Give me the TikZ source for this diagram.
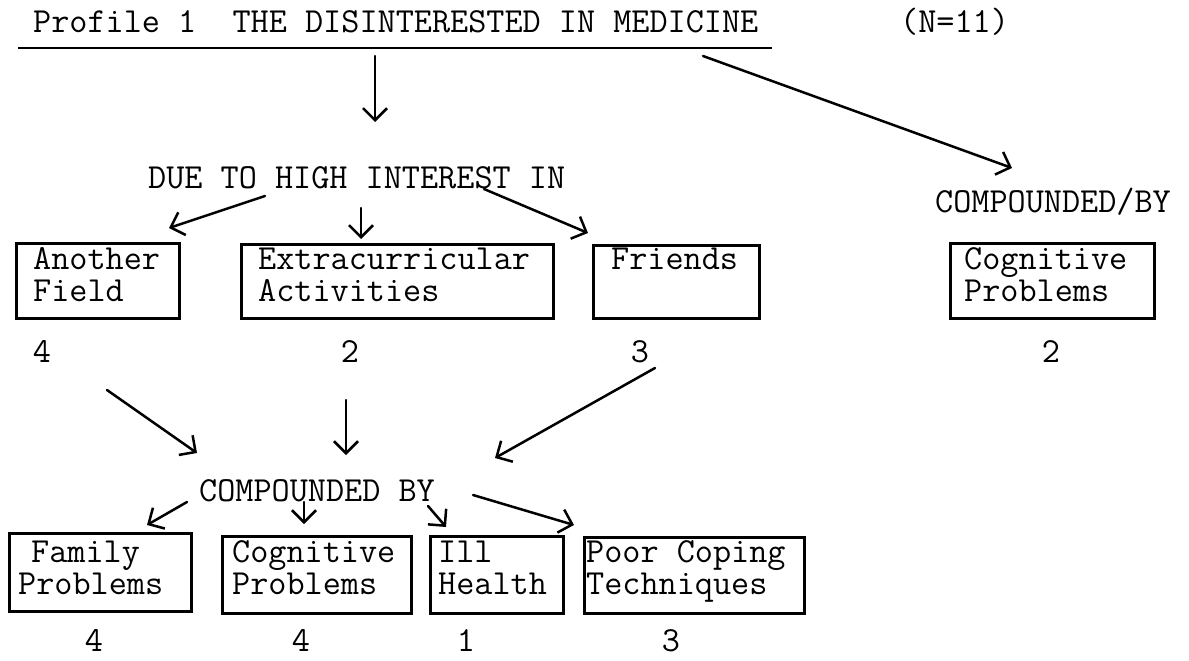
\documentclass[tikz,border=0pt]{standalone}
\usepackage{fontspec}
\usetikzlibrary{arrows.meta}
\newcommand{\twolines}[2]{\begin{tabular}[t]{@{}l@{}}#1\\#2\end{tabular}}
\begin{document}
\begin{tikzpicture}[x=1pt,y=-1pt,
  txt/.style={font=\ttfamily\fontsize{35.2}{32}\selectfont, inner sep=0pt, anchor=base west},
  num/.style={txt, anchor=base},
  box/.style={draw, line width=2.6pt, inner sep=0pt, anchor=north west},
  arr/.style={line width=2.5pt, line cap=round, -{Straight Barb[length=12pt,width=24pt]}},
  rule/.style={line width=2.4pt}]
\useasboundingbox[fill=white] (0,0) rectangle (1189,661);

% ---- row 1
\node[txt] (title) at (33,33) {Profile 1\ \ THE DISINTERESTED IN MEDICINE};
\node[txt] (n) at (900,33) {(N=11)};
\coordinate (ulL) at (18,48);
\coordinate (ulR) at (772,48);
\draw[rule] (ulL) -- (ulR);

% ---- row 2 texts
\node[txt] (due) at (148,188) {DUE TO HIGH INTEREST IN};
\node[txt] (comp1) at (935,212) {COMPOUNDED/BY};

% ---- row 2 boxes
\node[box, minimum width=163pt, minimum height=75pt] (bAF) at (15,242) {};
\node[txt] (tAF) at (33,269) {\twolines{Another}{Field}};
\node[box, minimum width=312pt, minimum height=74pt] (bEA) at (240,243) {};
\node[txt] (tEA) at (258,269) {\twolines{Extracurricular}{Activities}};
\node[box, minimum width=166pt, minimum height=73pt] (bFR) at (592,244) {};
\node[txt] (tFR) at (611,269) {Friends};
\node[box, minimum width=204pt, minimum height=75pt] (bCR) at (949,242) {};
\node[txt] (tCR) at (964,269) {\twolines{Cognitive}{Problems}};

% ---- row 2 numbers
\node[num] (n21) at (42,362) {4};
\node[num] (n22) at (350,362) {2};
\node[num] (n23) at (640,362) {3};
\node[num] (n24) at (1051,362) {2};

% ---- row 3 text
\node[txt] (comp2) at (199,501) {COMPOUNDED BY};

% ---- row 3 boxes
\node[box, minimum width=182pt, minimum height=78pt] (bFP) at (8,532) {};
\node[txt] (tFP) at (18,562) {\twolines{\hspace{13pt}Family}{Problems}};
\node[box, minimum width=189pt, minimum height=77pt] (bCP) at (221,535) {};
\node[txt] (tCP) at (232,562) {\twolines{Cognitive}{Problems}};
\node[box, minimum width=133pt, minimum height=77pt] (bIH) at (429,535) {};
\node[txt] (tIH) at (438,562) {\twolines{Ill}{Health}};
\node[box, minimum width=220pt, minimum height=76pt] (bPC) at (583,536) {};
\node[txt] (tPC) at (586,562) {\twolines{Poor Coping}{Techniques}};

% ---- row 3 numbers
\node[num] (n31) at (94,651) {4};
\node[num] (n32) at (301,651) {4};
\node[num] (n33) at (466,651) {1};
\node[num] (n34) at (671,651) {3};

% ---- connector ends
\coordinate (s1) at (375,56);   \coordinate (e1) at (375,122);
\coordinate (s2) at (703,56);   \coordinate (e2) at (1012,168);
\coordinate (s3) at (265,196);  \coordinate (e3) at (169,228);
\coordinate (s4) at (361,208);  \coordinate (e4) at (361,239);
\coordinate (s5) at (484,189);  \coordinate (e5) at (588,233);
\coordinate (s6) at (107,390);  \coordinate (e6) at (197,453);
\coordinate (s7) at (346,400);  \coordinate (e7) at (346,455);
\coordinate (s8) at (655,368);  \coordinate (e8) at (495,458);
\coordinate (s9) at (187,502);  \coordinate (e9) at (147,525);
\coordinate (s10) at (304,502); \coordinate (e10) at (304,524);
\coordinate (s11) at (428,506); \coordinate (e11) at (446,527);
\coordinate (s12) at (473,495); \coordinate (e12) at (574,525);

\draw[arr] (s1) -- (e1);
\draw[arr] (s2) -- (e2);
\draw[arr] (s3) -- (e3);
\draw[arr] (s4) -- (e4);
\draw[arr] (s5) -- (e5);
\draw[arr] (s6) -- (e6);
\draw[arr] (s7) -- (e7);
\draw[arr] (s8) -- (e8);
\draw[arr] (s9) -- (e9);
\draw[arr] (s10) -- (e10);
\draw[arr] (s11) -- (e11);
\draw[arr] (s12) -- (e12);
\end{tikzpicture}
\end{document}
